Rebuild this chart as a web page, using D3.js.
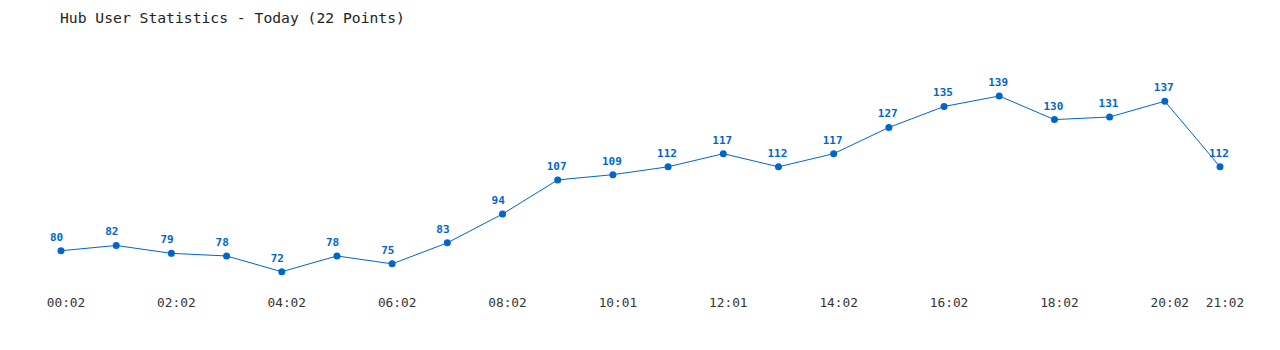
<!DOCTYPE html>
<html>
<head>
<meta charset="utf-8">
<script src="https://cdn.jsdelivr.net/npm/d3@7"></script>
<style>
  body { margin: 0; background: #fff; }
  svg { display: block; }
</style>
</head>
<body>
<div id="canvas"></div>
<script>
// DATA
const times = ["00:02", "01:02", "02:02", "03:02", "04:02", "05:02", "06:02", "07:02",
  "08:02", "09:02", "10:01", "11:01", "12:01", "13:02", "14:02", "15:02",
  "16:02", "17:02", "18:02", "19:02", "20:02", "21:02"];
const users = [80, 82, 79, 78, 72, 78, 75, 83, 94, 107, 109, 112, 117, 112, 117, 127,
  135, 139, 130, 131, 137, 112];
const shownTicks = ["00:02", "02:02", "04:02", "06:02", "08:02", "10:01", "12:01",
  "14:02", "16:02", "18:02", "20:02", "21:02"];
const title = "Hub User Statistics - Today (22 Points)";

// DIMENSIONS
const width = 1280;
const height = 350;
const blue = "#0066cc";
const mono = "'DejaVu Sans Mono', 'Liberation Mono', monospace";

const canvas = d3.select("#canvas")
  .append("svg")
  .attr("width", width)
  .attr("height", height);

// TITLE
canvas.append("text")
  .attr("x", 60)
  .attr("y", 23)
  .style("font-family", mono)
  .style("font-size", "14.7px")
  .style("fill", "#222")
  .text(title);

// SCALES
const x = d3.scalePoint()
  .domain(times)
  .range([61, 1220]);

const y = d3.scaleLinear()
  .domain([d3.min(users), d3.max(users)])
  .range([271.7, 96]);

const points = times.map((t, i) => ({ t: t, v: users[i] }));

// X AXIS
const xAxis = canvas.append("g")
  .attr("transform", "translate(4.5,296)")
  .call(d3.axisBottom(x).tickValues(shownTicks).tickSize(0).tickPadding(2));
xAxis.select(".domain").remove();
xAxis.selectAll("text")
  .style("font-family", mono)
  .style("font-size", "12.8px")
  .style("fill", "#333");

// LINE
canvas.append("path")
  .datum(points)
  .attr("fill", "none")
  .attr("stroke", blue)
  .attr("stroke-width", 1)
  .attr("d", d3.line().x(d => x(d.t)).y(d => y(d.v)));

// POINTS
canvas.selectAll("circle")
  .data(points)
  .join("circle")
  .attr("cx", d => x(d.t))
  .attr("cy", d => y(d.v))
  .attr("r", 3.5)
  .attr("fill", blue);

// VALUE LABELS
canvas.selectAll(".val")
  .data(points)
  .join("text")
  .attr("class", "val")
  .attr("x", d => x(d.t) - 11)
  .attr("y", d => y(d.v) - 10)
  .style("font-family", mono)
  .style("font-size", "11px")
  .style("font-weight", "bold")
  .style("fill", blue)
  .text(d => d.v);
</script>
</body>
</html>
